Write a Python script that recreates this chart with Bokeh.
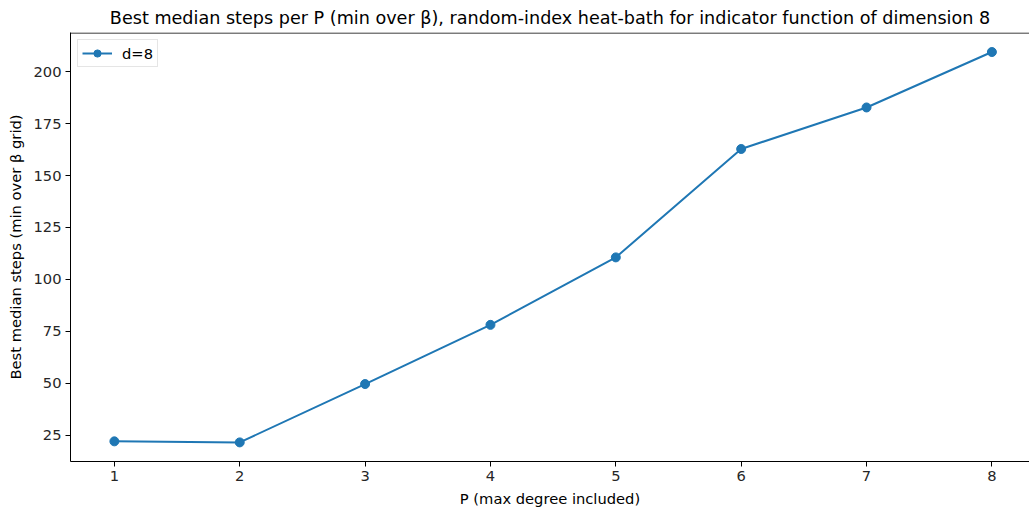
from bokeh.plotting import figure
from bokeh.models import Range1d, FixedTicker, Span
from bokeh.embed import file_html
from bokeh.resources import INLINE

P = [1, 2, 3, 4, 5, 6, 7, 8]
best_steps = [22.0, 21.5, 49.6, 78.1, 110.6, 162.8, 182.8, 209.5]
x_ticks = [1, 2, 3, 4, 5, 6, 7, 8]
y_ticks = [25, 50, 75, 100, 125, 150, 175, 200]

COLOR = "#1f77b4"
FONT = "DejaVu Sans"
Y_START, Y_END = 12.3, 218.9

p = figure(width=1029, height=510, output_backend="svg", toolbar_location=None,
           x_range=Range1d(0.65, 8.30), y_range=Range1d(Y_START, Y_END),
           title="Best median steps per P (min over β), random-index heat-bath for indicator function of dimension 8",
           min_border_left=70, min_border_right=0, min_border_top=32, min_border_bottom=49)

p.title.text_font = FONT
p.title.text_font_size = "17.6px"
p.title.text_font_style = "normal"
p.title.align = "center"
p.title.text_color = "#000000"

p.line(P, best_steps, color=COLOR, line_width=2, legend_label="d=8")
p.scatter(P, best_steps, color=COLOR, size=9, legend_label="d=8")

p.xgrid.visible = False
p.ygrid.visible = False
p.outline_line_color = None
# top spine (right spine is cut off by the image edge in the reference)
p.add_layout(Span(location=Y_END - 0.25, dimension="width", line_color="#000000", line_width=1))

for ax in (p.xaxis[0], p.yaxis[0]):
    ax.major_label_text_font = FONT
    ax.major_label_text_font_size = "14.7px"
    ax.major_label_text_color = "#262626"
    ax.axis_label_text_font = FONT
    ax.axis_label_text_font_size = "14.7px"
    ax.axis_label_text_font_style = "normal"
    ax.axis_label_text_color = "#000000"
    ax.axis_line_color = "#000000"
    ax.major_tick_line_color = "#000000"
    ax.major_tick_out = 5
    ax.major_tick_in = 0
    ax.minor_tick_line_color = None
    ax.major_label_standoff = 4
    ax.axis_label_standoff = 6

p.xaxis.ticker = FixedTicker(ticks=x_ticks)
p.yaxis.ticker = FixedTicker(ticks=y_ticks)
p.xaxis.axis_label = "P (max degree included)"
p.yaxis.axis_label = "Best median steps (min over β grid)"

p.legend.location = "top_left"
p.legend.margin = 7
p.legend.padding = 4
p.legend.spacing = 0
p.legend.glyph_width = 30
p.legend.glyph_height = 18
p.legend.label_standoff = 10
p.legend.label_text_font = FONT
p.legend.label_text_font_size = "14.7px"
p.legend.label_text_color = "#000000"
p.legend.border_line_color = "#cccccc"
p.legend.border_line_width = 1
p.legend.background_fill_alpha = 0.8

open("out.html", "w").write(file_html(p, INLINE))
